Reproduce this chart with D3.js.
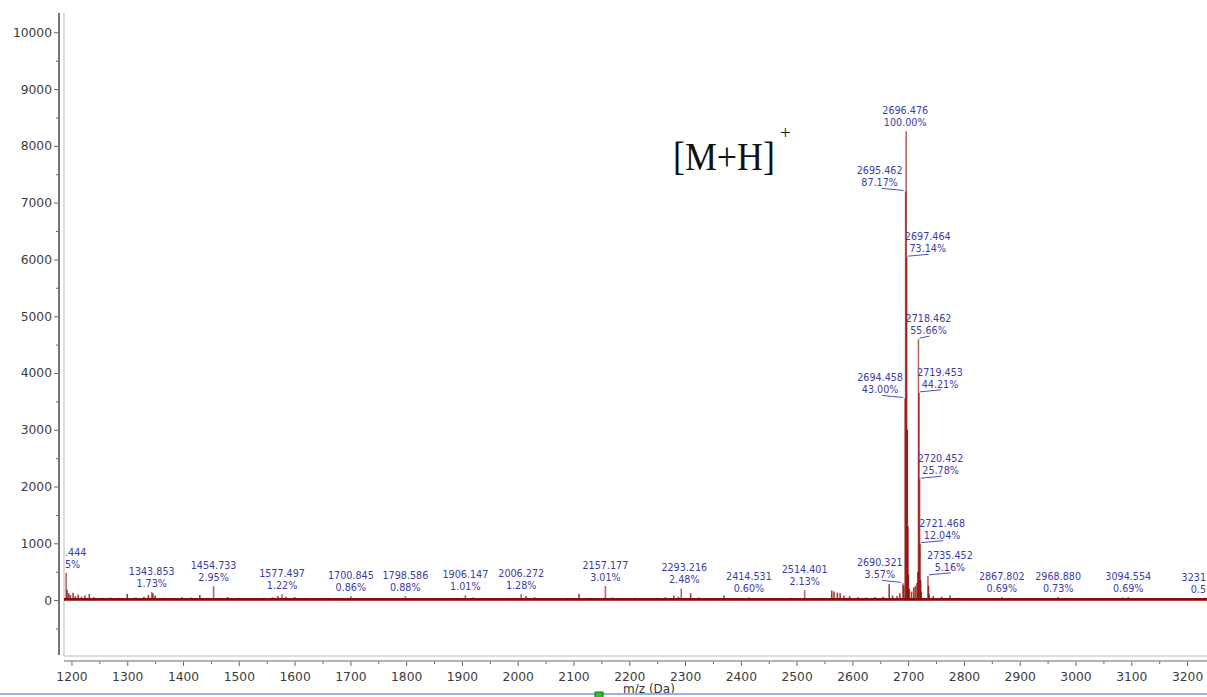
<!DOCTYPE html>
<html><head><meta charset="utf-8">
<script src="https://cdn.jsdelivr.net/npm/d3@7"></script>
<style>body{margin:0;background:#fff;overflow:hidden}svg{display:block}</style>
</head><body><svg id="c" width="1207" height="697"></svg>
<script>
// ---------------- data ----------------
const basePeakIntensity = 8257;
const labeledMz = ["1190.444","1343.853","1454.733","1577.497","1700.845","1798.586","1906.147","2006.272","2157.177","2293.216","2414.531","2514.401","2690.321","2694.458","2695.462","2696.476","2697.464","2718.462","2719.453","2720.452","2721.468","2735.452","2867.802","2968.880","3094.554","3231.520"];
const labeledPct = [5.75,1.73,2.95,1.22,0.86,0.88,1.01,1.28,3.01,2.48,0.60,2.13,3.57,43.00,87.17,100.00,73.14,55.66,44.21,25.78,12.04,5.16,0.69,0.73,0.69,0.51];
// what the reference shows of the two labels cut off at the plot edges
const firstLabelVisible = [".444", "5%"];
const lastLabelVisible = ["3231", "0.5"];
// unlabeled isotope / noise peaks
const otherMz = [1192,1195,1198,1203,1207,1212,1218,1224,1232,1240,1255,1270,1285,1300,1315,1330,1338,1346,1350,1365,1380,1398,1415,1430,1445,1465,1480,1500,1520,1545,1560,1570,1585,1600,1620,1640,1660,1680,1720,1745,1770,1820,1845,1870,1890,1920,1935,1960,1985,2015,2030,2050,2075,2090,2110,2130,2170,2190,2210,2230,2250,2265,2280,2288,2310,2325,2340,2370,2390,2430,2450,2470,2490,2530,2545,2563,2567,2573,2578,2585,2595,2610,2625,2640,2655,2666,2672,2680,2685,2692,2698.47,2699.47,2700.47,2702,2706,2710,2713,2716,2717.46,2722.47,2723.5,2736.45,2737.5,2745,2760,2775,2790,2810,2830,2850,2880,2900,2920,2945,2980,3000,3020,3045,3070,3085,3110,3130,3150,3175,3200,3220,3240];
const otherIntensity = [180,120,90,130,70,100,60,80,110,50,40,45,40,110,45,60,90,120,80,40,35,50,45,90,40,40,55,40,35,40,50,70,60,55,40,35,40,35,35,30,35,30,35,30,40,45,35,30,40,70,50,35,30,40,110,40,45,30,40,35,40,50,80,60,120,45,30,80,35,30,35,30,40,35,40,170,150,130,120,80,70,50,45,55,60,280,80,70,120,260,3000,1300,450,200,150,220,250,300,500,350,150,250,100,70,60,80,40,35,30,35,40,35,30,35,40,30,35,30,40,45,30,35,30,35,30,30,30];
const yTickValues = [0,1000,2000,3000,4000,5000,6000,7000,8000,9000,10000];
const yMinorValues = [-500,500,1500,2500,3500,4500,5500,6500,7500,8500,9500];
const xTickValues = [1200,1300,1400,1500,1600,1700,1800,1900,2000,2100,2200,2300,2400,2500,2600,2700,2800,2900,3000,3100,3200];
const xMinorValues = [1250,1350,1450,1550,1650,1750,1850,1950,2050,2150,2250,2350,2450,2550,2650,2750,2850,2950,3050,3150];
// label placement (pixels, layout only): horizontal shift of the label from its peak
const labelShift = [0,0,0,0,0,0,0,0,0,3,0,0,-23,-25,-26,-1,21,10,21,21,22,22,0,0,0,0];

// ---------------- layout ----------------
const svg = d3.select("#c");
const plotL = 64, plotB = 656, plotT = 13, plotR = 1207;
const x = d3.scaleLinear().domain([1186.6, 3242]).range([64, 1210.5]);
const y = d3.scaleLinear().domain([-985, 10340]).range([656, 13]);

const peaks = labeledMz.map((m,i)=>({mz:+m, label:m, pct:labeledPct[i], inten:labeledPct[i]/100*basePeakIntensity, shift:labelShift[i]}));
const others = otherMz.map((m,i)=>({mz:m, inten:otherIntensity[i]}));

svg.append("defs").append("clipPath").attr("id","clip")
  .append("rect").attr("x",plotL).attr("y",plotT).attr("width",plotR-plotL+10).attr("height",plotB-plotT);

// plot frame (light)
svg.append("line").attr("x1",plotL).attr("x2",plotL).attr("y1",plotT).attr("y2",plotB)
  .attr("stroke","#dcdcdc").attr("stroke-width",2);
svg.append("line").attr("x1",plotL).attr("x2",plotR).attr("y1",plotB).attr("y2",plotB)
  .attr("stroke","#dcdcdc").attr("stroke-width",2);

const tickFont = {family:"DejaVu Sans", size:12.3, fill:"#3a3a3a"};

// y axis
const yAx = svg.append("g").attr("transform","translate(59,0)");
yAx.call(d3.axisLeft(y).tickValues(yTickValues).tickSize(5).tickPadding(2).tickFormat(d3.format("d")));
yAx.append("g").call(d3.axisLeft(y).tickValues(yMinorValues).tickSize(3).tickFormat(""));
yAx.selectAll(".domain").remove();
yAx.append("line").attr("x1",0).attr("x2",0).attr("y1",13).attr("y2",655).attr("stroke","#777").attr("stroke-width",2);
yAx.selectAll(".tick line").attr("stroke","#666");
yAx.selectAll(".tick text").attr("font-family",tickFont.family).attr("font-size",tickFont.size).attr("fill",tickFont.fill);

// x axis
const xAx = svg.append("g").attr("transform","translate(0,661)");
xAx.call(d3.axisBottom(x).tickValues(xTickValues).tickSize(5).tickPadding(6).tickFormat(d3.format("d")));
xAx.append("g").call(d3.axisBottom(x).tickValues(xMinorValues).tickSize(3).tickFormat(""));
xAx.selectAll(".domain").remove();
xAx.append("line").attr("x1",plotL).attr("x2",plotR).attr("y1",0).attr("y2",0).attr("stroke","#999").attr("stroke-width",1.5);
xAx.selectAll(".tick line").attr("stroke","#666");
xAx.selectAll(".tick text").attr("font-family",tickFont.family).attr("font-size",tickFont.size).attr("fill",tickFont.fill);

// spectrum
const spec = svg.append("g").attr("clip-path","url(#clip)");
spec.append("line").attr("x1",plotL).attr("x2",plotR).attr("y1",y(14)).attr("y2",y(14))
  .attr("stroke","#8b0a0a").attr("stroke-width",2.8);
spec.selectAll("line.o").data(others).join("line").attr("class","o")
  .attr("x1",d=>x(d.mz)).attr("x2",d=>x(d.mz)).attr("y1",y(0)).attr("y2",d=>y(d.inten))
  .attr("stroke","#8b0a0a").attr("stroke-width",1.6).attr("stroke-opacity",0.8);
spec.selectAll("line.p").data(peaks).join("line").attr("class","p")
  .attr("x1",d=>x(d.mz)).attr("x2",d=>x(d.mz)).attr("y1",y(0)).attr("y2",d=>y(d.inten))
  .attr("stroke","#8b0a0a").attr("stroke-width",1.6).attr("stroke-opacity",0.62);

// labels
const lab = svg.append("g")
  .attr("font-family","DejaVu Sans").attr("font-size",9.6).attr("fill","#3a3aa6").attr("text-anchor","middle");
const last = peaks.length - 1;
peaks.forEach((d,i)=>{
  const px = x(d.mz), py = y(d.inten);
  const cx = px + d.shift, base = py - 5;
  if (i === 0) {
    // cut off by the plot's left edge in the reference
    lab.append("text").attr("x",plotL+1).attr("y",base-12).attr("text-anchor","start").text(firstLabelVisible[0]);
    lab.append("text").attr("x",plotL+1).attr("y",base).attr("text-anchor","start").text(firstLabelVisible[1]);
    return;
  }
  if (i === last) {
    // cut off by the picture's right edge in the reference
    lab.append("text").attr("x",plotR-1).attr("y",base-12).attr("text-anchor","end").text(lastLabelVisible[0]);
    lab.append("text").attr("x",plotR-1).attr("y",base).attr("text-anchor","end").text(lastLabelVisible[1]);
    return;
  }
  lab.append("text").attr("x",cx).attr("y",base-12).text(d.label);
  lab.append("text").attr("x",cx).attr("y",base).text(d.pct.toFixed(2)+"%");
  if (Math.abs(d.shift) > 6) {
    const left = d.shift < 0;
    lab.append("line")
      .attr("x1", left ? cx+2 : px+1).attr("y1", left ? base+2 : py-1)
      .attr("x2", left ? px-2 : cx+1).attr("y2", left ? py-1 : base+2)
      .attr("stroke","#5050b8").attr("stroke-width",1);
  }
});

// annotation
svg.append("text").attr("transform","translate(673,170) scale(0.92,1)")
  .attr("font-family","Liberation Serif").attr("font-size",39).attr("fill","#111").text("[M+H]");
svg.append("text").attr("x",780).attr("y",139)
  .attr("font-family","Liberation Serif").attr("font-size",19).attr("fill","#111").text("+");

// x axis title
svg.append("text").attr("x",649).attr("y",693).attr("text-anchor","middle")
  .attr("font-family","DejaVu Sans").attr("font-size",12).attr("fill","#333").text("m/z (Da)");

// bottom bar
svg.append("line").attr("x1",0).attr("x2",1207).attr("y1",694).attr("y2",694).attr("stroke","#8bb8e8").attr("stroke-width",2);
svg.append("rect").attr("x",595).attr("y",692).attr("width",8).attr("height",6).attr("fill","#33bb33").attr("stroke","#117711").attr("stroke-width",1);
</script></body></html>
